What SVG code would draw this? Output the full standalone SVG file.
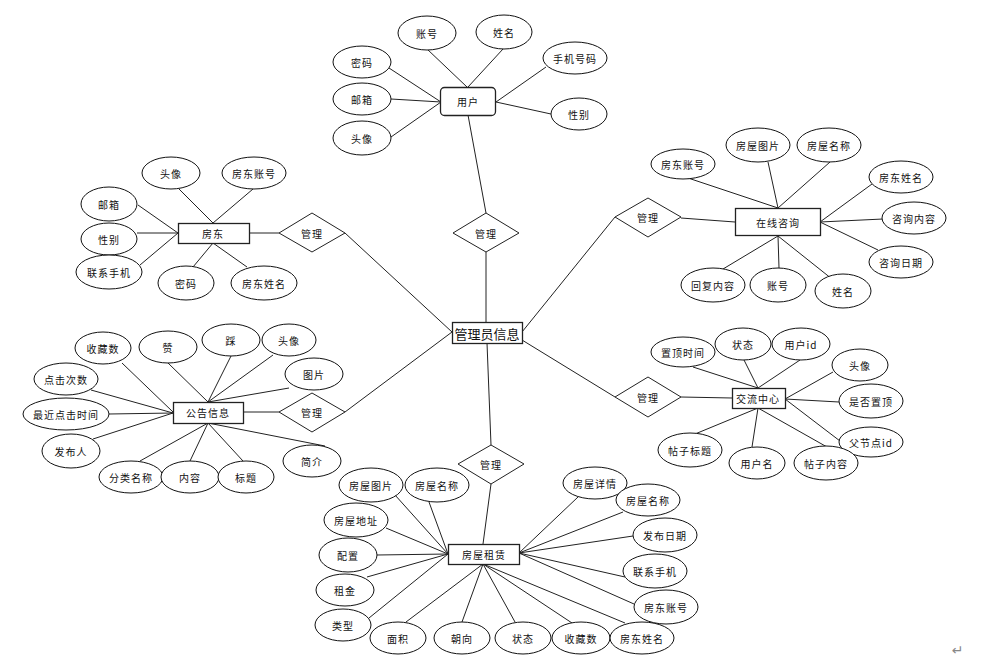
<svg xmlns="http://www.w3.org/2000/svg" width="984" height="658" viewBox="0 0 984 658">
<style>
.e{fill:#fff;stroke:#111;stroke-width:1}
.r{fill:#fff;stroke:#222;stroke-width:1.3}
.d{fill:#fff;stroke:#222;stroke-width:1}
.l{stroke:#222;stroke-width:1;fill:none}
text{font-family:"Noto Sans CJK SC","Noto Sans",sans-serif;font-size:10px;fill:#111;text-anchor:middle;dominant-baseline:central;letter-spacing:1px}
.big{font-size:13px;letter-spacing:0}
</style>
<rect width="984" height="658" fill="#fff"/>
<g id="connectors">
<!-- 用户 -->
<path class="l" d="M427,49L467,87M503,49L468,87M389,68L441,102M391,99L441,102M391,137L441,102M546,67L496,102M551,114L496,102M468,115L486,213M486,252L486,322"/>
<!-- 房东 -->
<path class="l" d="M179,189L213,223M253,189L213,223M138,205L178,233M137,233L178,233M140,265L178,233M193,267L213,243M247,267L213,243M249,233L279,233M345,233L452,332"/>
<!-- 在线咨询 -->
<path class="l" d="M685,177L778,208M768,162L778,208M830,162L778,208M872,184L820,222M883,219L820,222M878,250L820,222M723,269L778,236M779,268L778,236M832,279L778,236M681,218L735,222M615,217L522,332"/>
<!-- 公告信息 -->
<path class="l" d="M122,363L173,412M168,363L208,402M231,356L208,402M273,355L208,402M289,388L208,402M91,390L173,413M109,414L173,413M93,439L173,413M140,461L208,423M190,461L208,423M243,461L208,423M325,446L208,423M243,412L279,412M345,412L452,332"/>
<!-- 交流中心 -->
<path class="l" d="M693,367L758,388M744,360L758,388M800,360L758,388M833,372L785,399M839,402L785,399M840,441L785,399M695,434L758,408M752,447L758,408M827,447L758,408M681,397L732,398M615,397L522,340"/>
<!-- 房屋租赁 -->
<path class="l" d="M395,495L448,554M429,502L448,554M386,528L448,554M377,555L448,554M367,577L448,554M369,618L448,554M406,622L483,564M462,622L483,564M515,622L483,564M572,623L483,564M625,623L483,564M578,497L519,553M623,512L519,553M633,536L519,553M625,577L519,553M634,604L519,553M487,343L491,445M491,484L483,544"/>
</g>
<g id="n_yonghu"><rect class="r" x="440.5" y="87.5" width="55" height="28" rx="4"/><text x="468" y="101">用户</text></g>
<g id="a_u1"><ellipse class="e" cx="427" cy="33" rx="29" ry="17"/><text x="427" y="33">账号</text></g>
<g id="a_u2"><ellipse class="e" cx="504" cy="32" rx="28" ry="17"/><text x="504" y="32">姓名</text></g>
<g id="a_u3"><ellipse class="e" cx="362" cy="62" rx="29" ry="16"/><text x="362" y="62">密码</text></g>
<g id="a_u4"><ellipse class="e" cx="362" cy="99" rx="29" ry="16"/><text x="362" y="99">邮箱</text></g>
<g id="a_u5"><ellipse class="e" cx="362" cy="138" rx="29" ry="17"/><text x="362" y="138">头像</text></g>
<g id="a_u6"><ellipse class="e" cx="575" cy="58" rx="32" ry="16"/><text x="575" y="58">手机号码</text></g>
<g id="a_u7"><ellipse class="e" cx="579" cy="114" rx="28" ry="16"/><text x="579" y="114">性别</text></g>
<g id="r_top"><polygon class="d" points="486,213 519,233 486,252 453,233"/><text x="486" y="233">管理</text></g>
<g id="n_center"><rect class="r" x="452.5" y="322.5" width="70" height="21"/><text class="big" x="487" y="333">管理员信息</text></g>

<g id="n_fangdong"><rect class="r" x="178.5" y="223.5" width="71" height="20"/><text x="213" y="233">房东</text></g>
<g id="r_fd"><polygon class="d" points="279,233 312,213 345,233 312,252"/><text x="312" y="233">管理</text></g>
<g id="a_f1"><ellipse class="e" cx="171" cy="173" rx="29" ry="16"/><text x="171" y="173">头像</text></g>
<g id="a_f2"><ellipse class="e" cx="254" cy="173" rx="32" ry="16"/><text x="254" y="173">房东账号</text></g>
<g id="a_f3"><ellipse class="e" cx="109" cy="204" rx="28" ry="17"/><text x="109" y="204">邮箱</text></g>
<g id="a_f4"><ellipse class="e" cx="109" cy="239" rx="28" ry="16"/><text x="109" y="239">性别</text></g>
<g id="a_f5"><ellipse class="e" cx="109" cy="272" rx="33" ry="17"/><text x="109" y="272">联系手机</text></g>
<g id="a_f6"><ellipse class="e" cx="186" cy="283" rx="28" ry="17"/><text x="186" y="283">密码</text></g>
<g id="a_f7"><ellipse class="e" cx="264" cy="283" rx="33" ry="17"/><text x="264" y="283">房东姓名</text></g>

<g id="n_zixun"><rect class="r" x="735.5" y="208.5" width="85" height="27"/><text x="778" y="222">在线咨询</text></g>
<g id="r_zx"><polygon class="d" points="615,217 648,198 681,217 648,237"/><text x="648" y="217">管理</text></g>
<g id="a_z1"><ellipse class="e" cx="683" cy="164" rx="32" ry="15"/><text x="683" y="164">房东账号</text></g>
<g id="a_z2"><ellipse class="e" cx="758" cy="145" rx="32" ry="17"/><text x="758" y="145">房屋图片</text></g>
<g id="a_z3"><ellipse class="e" cx="829" cy="145" rx="32" ry="17"/><text x="829" y="145">房屋名称</text></g>
<g id="a_z4"><ellipse class="e" cx="901" cy="177" rx="32" ry="16"/><text x="901" y="177">房东姓名</text></g>
<g id="a_z5"><ellipse class="e" cx="914" cy="218" rx="32" ry="16"/><text x="914" y="218">咨询内容</text></g>
<g id="a_z6"><ellipse class="e" cx="901" cy="262" rx="32" ry="16"/><text x="901" y="262">咨询日期</text></g>
<g id="a_z7"><ellipse class="e" cx="713" cy="285" rx="32" ry="17"/><text x="713" y="285">回复内容</text></g>
<g id="a_z8"><ellipse class="e" cx="778" cy="285" rx="28" ry="17"/><text x="778" y="285">账号</text></g>
<g id="a_z9"><ellipse class="e" cx="843" cy="291" rx="28" ry="17"/><text x="843" y="291">姓名</text></g>

<g id="n_gonggao"><rect class="r" x="173.5" y="402.5" width="70" height="21"/><text x="208" y="412">公告信息</text></g>
<g id="r_gg"><polygon class="d" points="279,412 312,393 345,412 312,432"/><text x="312" y="412">管理</text></g>
<g id="a_g1"><ellipse class="e" cx="103" cy="348" rx="28" ry="16"/><text x="103" y="348">收藏数</text></g>
<g id="a_g2"><ellipse class="e" cx="168" cy="347" rx="29" ry="16"/><text x="168" y="347">赞</text></g>
<g id="a_g3"><ellipse class="e" cx="231" cy="340" rx="29" ry="16"/><text x="231" y="340">踩</text></g>
<g id="a_g4"><ellipse class="e" cx="289" cy="340" rx="27" ry="16"/><text x="289" y="340">头像</text></g>
<g id="a_g5"><ellipse class="e" cx="314" cy="374" rx="29" ry="16"/><text x="314" y="374">图片</text></g>
<g id="a_g6"><ellipse class="e" cx="66" cy="379" rx="32" ry="16"/><text x="66" y="379">点击次数</text></g>
<g id="a_g7"><ellipse class="e" cx="66" cy="414" rx="43" ry="16"/><text x="66" y="414">最近点击时间</text></g>
<g id="a_g8"><ellipse class="e" cx="71" cy="451" rx="29" ry="17"/><text x="71" y="451">发布人</text></g>
<g id="a_g9"><ellipse class="e" cx="131" cy="477" rx="32" ry="16"/><text x="131" y="477">分类名称</text></g>
<g id="a_g10"><ellipse class="e" cx="190" cy="477" rx="29" ry="16"/><text x="190" y="477">内容</text></g>
<g id="a_g11"><ellipse class="e" cx="246" cy="477" rx="28" ry="16"/><text x="246" y="477">标题</text></g>
<g id="a_g12"><ellipse class="e" cx="312" cy="461" rx="29" ry="16"/><text x="312" y="461">简介</text></g>

<g id="n_jiaoliu"><rect class="r" x="732.5" y="388.5" width="53" height="20"/><text x="758" y="398">交流中心</text></g>
<g id="r_jl"><polygon class="d" points="615,397 648,377 681,397 648,417"/><text x="648" y="397">管理</text></g>
<g id="a_j1"><ellipse class="e" cx="683" cy="352" rx="32" ry="15"/><text x="683" y="352">置顶时间</text></g>
<g id="a_j2"><ellipse class="e" cx="743" cy="344" rx="28" ry="16"/><text x="743" y="344">状态</text></g>
<g id="a_j3"><ellipse class="e" cx="801" cy="344" rx="29" ry="16"/><text x="801" y="344">用户id</text></g>
<g id="a_j4"><ellipse class="e" cx="860" cy="365" rx="28" ry="16"/><text x="860" y="365">头像</text></g>
<g id="a_j5"><ellipse class="e" cx="871" cy="401" rx="32" ry="17"/><text x="871" y="401">是否置顶</text></g>
<g id="a_j6"><ellipse class="e" cx="871" cy="442" rx="32" ry="15"/><text x="871" y="442">父节点id</text></g>
<g id="a_j7"><ellipse class="e" cx="690" cy="450" rx="32" ry="17"/><text x="690" y="450">帖子标题</text></g>
<g id="a_j8"><ellipse class="e" cx="757" cy="463" rx="28" ry="16"/><text x="757" y="463">用户名</text></g>
<g id="a_j9"><ellipse class="e" cx="826" cy="463" rx="32" ry="17"/><text x="826" y="463">帖子内容</text></g>

<g id="r_zl"><polygon class="d" points="458,464 491,445 524,464 491,484"/><text x="491" y="464">管理</text></g>
<g id="n_zulin"><rect class="r" x="448.5" y="544.5" width="71" height="20"/><text x="484" y="554">房屋租赁</text></g>
<g id="a_h1"><ellipse class="e" cx="371" cy="485" rx="32" ry="17"/><text x="371" y="485">房屋图片</text></g>
<g id="a_h2"><ellipse class="e" cx="437" cy="485" rx="32" ry="17"/><text x="437" y="485">房屋名称</text></g>
<g id="a_h3"><ellipse class="e" cx="356" cy="520" rx="32" ry="17"/><text x="356" y="520">房屋地址</text></g>
<g id="a_h4"><ellipse class="e" cx="348" cy="555" rx="29" ry="17"/><text x="348" y="555">配置</text></g>
<g id="a_h5"><ellipse class="e" cx="345" cy="590" rx="29" ry="16"/><text x="345" y="590">租金</text></g>
<g id="a_h6"><ellipse class="e" cx="343" cy="625" rx="28" ry="16"/><text x="343" y="625">类型</text></g>
<g id="a_h7"><ellipse class="e" cx="398" cy="638" rx="28" ry="16"/><text x="398" y="638">面积</text></g>
<g id="a_h8"><ellipse class="e" cx="462" cy="638" rx="28" ry="16"/><text x="462" y="638">朝向</text></g>
<g id="a_h9"><ellipse class="e" cx="523" cy="638" rx="28" ry="16"/><text x="523" y="638">状态</text></g>
<g id="a_h10"><ellipse class="e" cx="581" cy="638" rx="29" ry="16"/><text x="581" y="638">收藏数</text></g>
<g id="a_h11"><ellipse class="e" cx="642" cy="638" rx="32" ry="16"/><text x="642" y="638">房东姓名</text></g>
<g id="a_h12"><ellipse class="e" cx="595" cy="483" rx="32" ry="16"/><text x="595" y="483">房屋详情</text></g>
<g id="a_h13"><ellipse class="e" cx="648" cy="500" rx="32" ry="16"/><text x="648" y="500">房屋名称</text></g>
<g id="a_h14"><ellipse class="e" cx="665" cy="535" rx="32" ry="17"/><text x="665" y="535">发布日期</text></g>
<g id="a_h15"><ellipse class="e" cx="655" cy="571" rx="32" ry="17"/><text x="655" y="571">联系手机</text></g>
<g id="a_h16"><ellipse class="e" cx="666" cy="607" rx="32" ry="17"/><text x="666" y="607">房东账号</text></g>
<text x="958" y="650" style="fill:#888;font-size:14px;font-family:'DejaVu Sans',sans-serif">↵</text>
</svg>
